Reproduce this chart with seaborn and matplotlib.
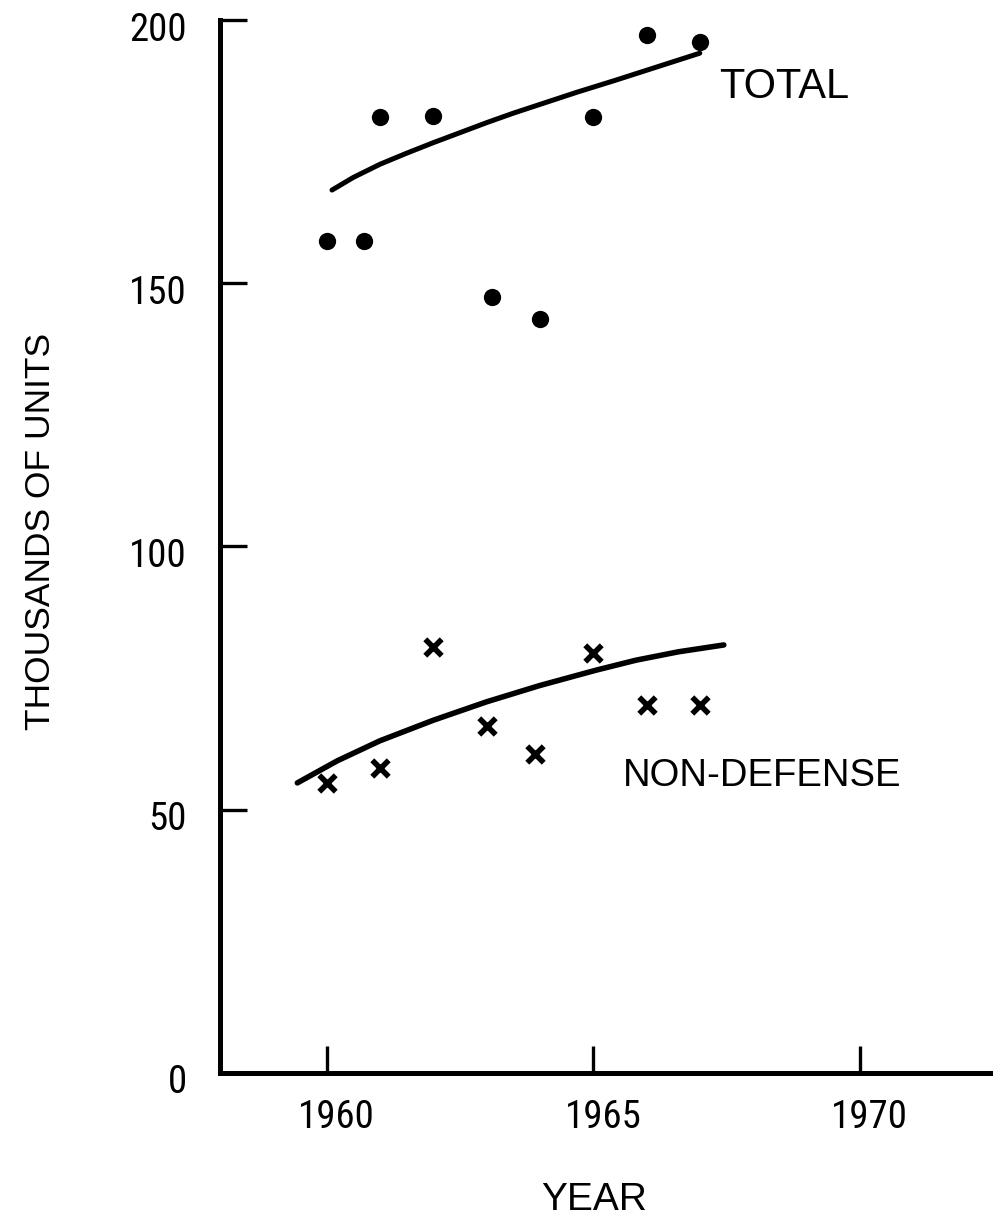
import numpy as np
import pandas as pd
import seaborn as sns
import matplotlib.pyplot as plt
from matplotlib.transforms import ScaledTranslation

total_years = [1960.0, 1960.7, 1961.0, 1962.0, 1963.1, 1964.0, 1965.0, 1966.0, 1967.0]
total_units = [158, 158, 181.5, 181.8, 147.3, 143.2, 181.5, 197.2, 195.9]

nondef_years = [1960.0, 1961.0, 1962.0, 1963.0, 1963.9, 1965.0, 1966.0, 1967.0]
nondef_units = [55.0, 57.9, 81.0, 65.9, 60.6, 79.7, 69.9, 69.9]

# Hand-drawn trend curves
total_trend_years = [1960.1, 1960.5, 1961.0, 1961.5, 1962.0, 1962.5, 1963.0, 1963.5,
                     1964.1, 1964.7, 1965.4, 1966.2, 1967.0]
total_trend_units = [167.7, 170.1, 172.6, 174.7, 176.7, 178.6, 180.5, 182.3,
                     184.3, 186.3, 188.5, 191.1, 193.7]

nondef_trend_years = [1959.45, 1960.2, 1961.0, 1962.0, 1963.0, 1964.0, 1965.05,
                      1965.8, 1966.6, 1967.45]
nondef_trend_units = [55.1, 59.3, 63.1, 67.0, 70.5, 73.6, 76.5, 78.4, 80.0, 81.3]

x_ticks = [1960, 1965, 1970]
y_ticks = [0, 50, 100, 150, 200]

sns.set_style('white')
plt.rcParams['font.family'] = ['Liberation Sans', 'DejaVu Sans']
plt.rcParams['text.color'] = 'black'
plt.rcParams['axes.labelcolor'] = 'black'
plt.rcParams['xtick.color'] = 'black'
plt.rcParams['ytick.color'] = 'black'
digits = ['Roboto Condensed', 'Liberation Sans Narrow', 'DejaVu Sans']

fig = plt.figure(figsize=(9.93, 12.2), dpi=100)
ax = fig.add_axes([0.2216, 0.1205, 0.7784, 0.8631])

total = pd.DataFrame({'year': total_years, 'units': total_units})
nondef = pd.DataFrame({'year': nondef_years, 'units': nondef_units})
total_trend = pd.DataFrame({'year': total_trend_years, 'units': total_trend_units})
nondef_trend = pd.DataFrame({'year': nondef_trend_years, 'units': nondef_trend_units})

sns.scatterplot(data=total, x='year', y='units', ax=ax, color='black',
                marker='o', s=155, edgecolor='black', linewidth=0)
sns.scatterplot(data=nondef, x='year', y='units', ax=ax, color='black',
                marker='x', s=140, linewidth=4.0)
sns.lineplot(data=total_trend, x='year', y='units', ax=ax, color='black',
             lw=3.6, sort=False, solid_capstyle='round')
sns.lineplot(data=nondef_trend, x='year', y='units', ax=ax, color='black',
             lw=4.0, sort=False, solid_capstyle='round')

ax.text(1967.37, 187.3, 'TOTAL', fontsize=30, va='center', ha='left')
ax.text(1965.55, 56.5, 'NON-DEFENSE', fontsize=27.5, va='center', ha='left')

ax.set_xlim(1958.0, 1972.5)
ax.set_ylim(0, 200)
ax.set_xticks(x_ticks)
ax.set_yticks(y_ticks)
ax.set_xticklabels([str(t) for t in x_ticks], fontsize=28, family=digits)
ax.set_yticklabels([str(t) for t in y_ticks], fontsize=28, family=digits)
ax.tick_params(axis='both', direction='in', length=19.5, width=2.4, color='black',
               bottom=True, left=True)
ax.tick_params(axis='x', pad=19)
ax.tick_params(axis='y', pad=24)
shift = ScaledTranslation(10 / 100, 0, fig.dpi_scale_trans)
for lab in ax.get_xticklabels():
    lab.set_transform(lab.get_transform() + shift)
shift_y = ScaledTranslation(0, -6 / 100, fig.dpi_scale_trans)
for lab in ax.get_yticklabels():
    lab.set_transform(lab.get_transform() + shift_y)

for side in ['top', 'right']:
    ax.spines[side].set_visible(False)
for side in ['left', 'bottom']:
    ax.spines[side].set_linewidth(3.6)
    ax.spines[side].set_color('black')

ax.set_xlabel('YEAR', fontsize=28, va='center')
ax.xaxis.set_label_coords(0.4838, -0.1206)
ax.set_ylabel('THOUSANDS OF UNITS', fontsize=25.5, va='center')
ax.yaxis.set_label_coords(-0.2329, 0.5147)

fig.savefig('out.png', dpi=100, facecolor='white')
